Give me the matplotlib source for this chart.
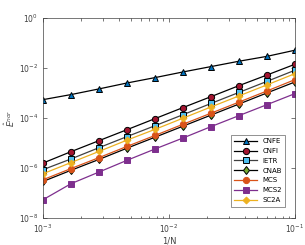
import matplotlib
matplotlib.use("Agg")
import matplotlib.pyplot as plt
import numpy as np

invN = [1.0e-3, 1.668e-3, 2.783e-3, 4.642e-3, 7.743e-3, 1.292e-2, 2.154e-2, 3.594e-2, 5.995e-2, 1.0e-1]
CNFE = [5.4e-4, 8.6e-4, 1.45e-3, 2.5e-3, 4.1e-3, 6.9e-3, 1.13e-2, 1.85e-2, 2.9e-2, 5.1e-2]
CNFI = [1.58e-6, 4.5e-6, 1.24e-5, 3.4e-5, 9.4e-5, 2.6e-4, 7.1e-4, 1.96e-3, 5.2e-3, 1.4e-2]
IETR = [8.6e-7, 2.3e-6, 6.5e-6, 1.8e-5, 4.9e-5, 1.35e-4, 3.8e-4, 1.05e-3, 2.9e-3, 8.1e-3]
CNAB = [2.9e-7, 8.1e-7, 2.2e-6, 6.2e-6, 1.7e-5, 4.7e-5, 1.3e-4, 3.6e-4, 1.0e-3, 2.75e-3]
MCS = [3.4e-7, 9.5e-7, 2.6e-6, 7.3e-6, 2.0e-5, 5.6e-5, 1.55e-4, 4.3e-4, 1.2e-3, 3.4e-3]
MCS2 = [5.4e-8, 2.36e-7, 6.9e-7, 2.03e-6, 5.75e-6, 1.58e-5, 4.5e-5, 1.24e-4, 3.4e-4, 9.4e-4]
SC2A = [5.9e-7, 1.65e-6, 4.6e-6, 1.3e-5, 3.5e-5, 9.8e-5, 2.75e-4, 7.6e-4, 2.1e-3, 5.9e-3]

fig = plt.figure(figsize=(3.05, 2.45), dpi=100)
ax = fig.add_axes([0.141, 0.110, 0.826, 0.817])

series = [
    ("CNFE", CNFE, "^", "black", "#0072BD", "black"),
    ("CNFI", CNFI, "o", "black", "#A2142F", "black"),
    ("IETR", IETR, "s", "#404040", "#4DBEEE", "black"),
    ("CNAB", CNAB, "d", "black", "#77AC30", "black"),
    ("MCS", MCS, "o", "#D95319", "#D95319", "#D95319"),
    ("MCS2", MCS2, "s", "#7E2F8E", "#7E2F8E", "#7E2F8E"),
    ("SC2A", SC2A, "D", "#EDB120", "#EDB120", "#EDB120"),
]
for name, y, m, lc, fc, ec in series:
    ms = 4.5 if m != "D" else 3.5
    ax.loglog(invN, y, marker=m, color=lc, markerfacecolor=fc, markeredgecolor=ec,
              lw=0.9, ms=ms, mew=0.7, label=name)

ax.set_xlim(1e-3, 1e-1)
ax.set_ylim(1e-8, 1e0)
ax.set_yticks([1e-8, 1e-6, 1e-4, 1e-2, 1e0])
ax.yaxis.set_minor_locator(matplotlib.ticker.NullLocator())
ax.tick_params(which="both", direction="in", top=True, right=True, labelsize=5.5,
               colors="#404040", width=0.5)
ax.tick_params(which="major", length=3)
ax.tick_params(which="minor", length=1.8)
for s in ax.spines.values():
    s.set_linewidth(0.5)
    s.set_color("#404040")
ax.set_xlabel("1/N", fontsize=6, color="#404040", labelpad=1)
ax.set_ylabel(r"$\hat{E}^{nor}$", fontsize=6, color="#404040", labelpad=1)

leg = ax.legend(loc="lower right", fontsize=5, frameon=True, fancybox=False,
                edgecolor="#404040", handlelength=3.2, labelspacing=0.55,
                borderpad=0.5, bbox_to_anchor=(0.975, 0.04))
leg.get_frame().set_linewidth(0.5)

fig.savefig("out.png", dpi=100)
